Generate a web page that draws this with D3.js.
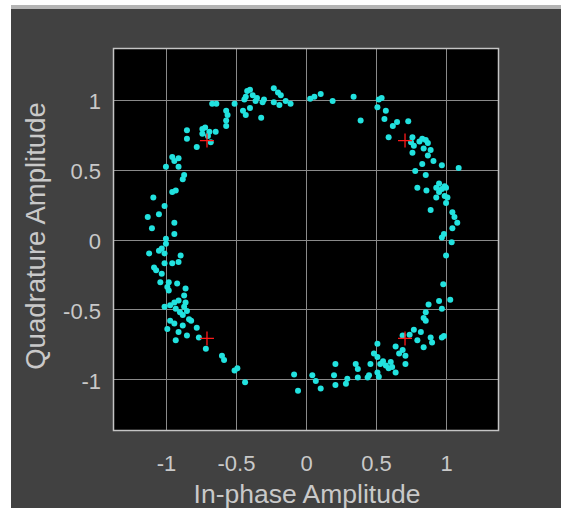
<!DOCTYPE html>
<html>
<head>
<meta charset="utf-8">
<script src="https://cdn.jsdelivr.net/npm/d3@7"></script>
<style>
  html, body { margin: 0; padding: 0; background: #fff; }
  svg { display: block; }
</style>
</head>
<body>
<script>
/*** data: received symbols (in-phase, quadrature) ***/
const inPhase = [
  -0.67, -0.64, -0.51, -0.42, -0.40, -0.43, -0.38, -0.36, -0.31, -0.30,
  -0.40, -0.45, -0.43, -0.32, -0.23, -0.20, -0.18, -0.23, -0.19, -0.145,
  -0.11, -0.57, -0.56, -0.57, -0.57, -0.85, -0.85, -0.74, -0.72, -0.69,
  -0.645, -0.74, -0.78, -0.68, -0.955, -0.91, -0.94, -1.00, -0.91, -0.87,
  -0.88, -0.93, -0.955, -1.09, -1.01, -1.05, -1.13, -1.10, -0.94, -0.94,
  -1.00, -0.44, -0.35, -0.70,
  0.03, 0.06, 0.105, 0.19, 0.34, 0.52, 0.54, 0.51, 0.57, 0.39,
  0.56, 0.62, 0.65, 0.73, 0.59, 0.76, 0.75, 0.77, 0.76, 0.83,
  0.855, 0.84, 0.89, 0.87, 0.83, 0.91, 0.97, 1.09, 0.78, 0.855,
  0.95, 0.97, 1.00, 0.95, 0.93, 0.99, 1.01, 1.00, 0.89, 1.045,
  1.06, 1.08, 1.045, 0.985, 0.97, 0.795, 0.86, 0.93, 0.99, 0.81,
  0.87,
  -1.00, -1.03, -1.05, -1.12, -1.01, -0.895, -0.91, -0.955, -1.01, -1.085,
  -1.07, -1.03, -1.04, -0.98, -0.92, -0.99, -0.98, -0.86, -0.87, -1.01,
  -0.97, -0.94, -0.91, -0.93, -0.87, -0.85, -0.88, -0.835, -0.97, -0.94,
  -0.99, -0.82, -0.88, -0.78, -0.91, -0.85, -0.93, -0.765, -0.715, -0.60,
  -0.585, -0.51, -0.49, -0.435, -0.085, -0.057, -0.90, -0.86,
  1.04, 1.00, 0.98, 1.03, 0.95, 0.97, 0.875, 0.855, 0.84, 0.855,
  0.77, 0.82, 0.795, 0.84, 0.89, 0.90, 0.97, 0.985, 0.69, 0.64,
  0.69, 0.665, 0.71, 0.71, 0.51, 0.485, 0.51, 0.46, 0.53, 0.57,
  0.605, 0.615, 0.64, 0.51, 0.52, 0.45, 0.44, 0.355, 0.37, 0.37,
  0.295, 0.285, 0.21, 0.20, 0.21, 0.105, 0.045, 0.07, 0.55, 0.59,
  0.74
];
const quadrature = [
  0.97, 0.97, 0.97, 1.06, 1.07, 1.02, 1.03, 0.99, 0.98, 1.00,
  0.94, 0.92, 0.89, 0.87, 1.08, 1.05, 1.03, 0.98, 0.96, 0.99,
  0.97, 0.92, 0.89, 0.85, 0.81, 0.78, 0.72, 0.79, 0.80, 0.77,
  0.77, 0.755, 0.66, 0.695, 0.59, 0.58, 0.56, 0.52, 0.52, 0.46,
  0.43, 0.35, 0.34, 0.30, 0.24, 0.18, 0.16, 0.08, 0.12, 0.04,
  0.005, 1.00, 1.01, 0.74,
  1.005, 1.02, 1.04, 0.99, 1.02, 1.00, 1.01, 0.945, 0.92, 0.85,
  0.86, 0.81, 0.84, 0.845, 0.73, 0.73, 0.695, 0.67, 0.62, 0.72,
  0.71, 0.65, 0.64, 0.60, 0.54, 0.56, 0.53, 0.51, 0.49, 0.46,
  0.40, 0.36, 0.37, 0.34, 0.30, 0.31, 0.30, 0.26, 0.21, 0.195,
  0.16, 0.12, 0.08, 0.04, 0.015, 0.37, 0.35, 0.37, 0.38, 0.70,
  0.69,
  -0.03, -0.065, -0.08, -0.10, -0.10, -0.115, -0.16, -0.17, -0.17, -0.20,
  -0.22, -0.245, -0.305, -0.305, -0.315, -0.34, -0.365, -0.35, -0.40, -0.48,
  -0.47, -0.45, -0.435, -0.495, -0.48, -0.51, -0.54, -0.57, -0.58, -0.60,
  -0.64, -0.58, -0.615, -0.63, -0.66, -0.685, -0.72, -0.70, -0.78, -0.83,
  -0.86, -0.935, -0.92, -1.02, -0.965, -1.08, -0.52, -0.45,
  -0.02, -0.115, -0.32, -0.43, -0.44, -0.495, -0.465, -0.52, -0.56, -0.58,
  -0.645, -0.66, -0.72, -0.77, -0.70, -0.735, -0.70, -0.69, -0.685, -0.765,
  -0.79, -0.815, -0.83, -0.89, -0.745, -0.815, -0.84, -0.89, -0.89, -0.90,
  -0.875, -0.91, -0.95, -0.95, -0.98, -0.97, -0.985, -0.89, -0.925, -0.985,
  -0.995, -1.03, -0.89, -0.97, -1.04, -1.065, -0.97, -1.01, -0.87, -0.92,
  -0.68
];
// reference QPSK constellation
const refI = [0.707, -0.707, -0.707, 0.707];
const refQ = [0.707, 0.707, -0.707, -0.707];
const tickValues = [-1, -0.5, 0, 0.5, 1];

/*** layout ***/
const width = 561, height = 508;
const frame = { left: 113, right: 499, top: 48, bottom: 431 };
const font = 'Liberation Sans, Arial, sans-serif';
const textColor = '#c9c9c9';

const svg = d3.select('body').append('svg')
  .attr('width', width)
  .attr('height', height);

// window edge + dark figure background
svg.append('rect').attr('width', width).attr('height', height).attr('fill', '#fff');
svg.append('rect').attr('x', 11).attr('y', 5).attr('width', width - 11).attr('height', 4)
  .attr('fill', '#b4b4b4');
svg.append('rect').attr('x', 11).attr('y', 9).attr('width', width - 11).attr('height', height - 9)
  .attr('fill', '#414141');

const x = d3.scaleLinear().domain([-1.378, 1.378]).range([frame.left, frame.right]);
const y = d3.scaleLinear().domain([-1.368, 1.368]).range([frame.bottom, frame.top]);

// plot background
svg.append('rect')
  .attr('x', frame.left).attr('y', frame.top)
  .attr('width', frame.right - frame.left)
  .attr('height', frame.bottom - frame.top)
  .attr('fill', '#000');

// grid
const grid = svg.append('g').attr('stroke', '#8a8a8a').attr('stroke-width', 1);
grid.selectAll('line.v').data(tickValues).join('line')
  .attr('class', 'v')
  .attr('x1', d => Math.round(x(d)) + 0.5).attr('x2', d => Math.round(x(d)) + 0.5)
  .attr('y1', frame.top).attr('y2', frame.bottom);
grid.selectAll('line.h').data(tickValues).join('line')
  .attr('class', 'h')
  .attr('y1', d => Math.round(y(d)) + 0.5).attr('y2', d => Math.round(y(d)) + 0.5)
  .attr('x1', frame.left).attr('x2', frame.right);

// received points
svg.append('g')
  .selectAll('circle')
  .data(d3.zip(inPhase, quadrature))
  .join('circle')
  .attr('cx', d => x(d[0]))
  .attr('cy', d => y(d[1]))
  .attr('r', 3)
  .attr('fill', '#22e2df');

// reference markers
svg.append('g')
  .selectAll('path')
  .data(d3.zip(refI, refQ))
  .join('path')
  .attr('transform', d => `translate(${x(d[0])},${y(d[1])})`)
  .attr('d', 'M-7,0H7M0,-7V7')
  .attr('stroke', '#ff1a1a')
  .attr('stroke-width', 1.3)
  .attr('fill', 'none');

// tick labels
const xAxis = svg.append('g')
  .attr('transform', `translate(0,${frame.bottom})`)
  .call(d3.axisBottom(x).tickValues(tickValues).tickSize(0).tickPadding(24).tickFormat(d => String(d)));
const yAxis = svg.append('g')
  .attr('transform', `translate(${frame.left},0)`)
  .call(d3.axisLeft(y).tickValues(tickValues).tickSize(0).tickPadding(12).tickFormat(d => String(d)));
yAxis.selectAll('text').attr('dy', '0.42em');

[xAxis, yAxis].forEach(a => {
  a.select('.domain').remove();
  a.selectAll('text')
    .attr('fill', textColor)
    .style('font-family', font)
    .style('font-size', '22px');
});

// axes box
svg.append('rect')
  .attr('x', frame.left + 0.5).attr('y', frame.top + 0.5)
  .attr('width', frame.right - frame.left - 1)
  .attr('height', frame.bottom - frame.top - 1)
  .attr('fill', 'none')
  .attr('stroke', '#c4c4c4')
  .attr('stroke-width', 1.5);

// axis titles
svg.append('text')
  .attr('x', 307)
  .attr('y', 503)
  .attr('text-anchor', 'middle')
  .attr('fill', textColor)
  .style('font-family', font)
  .style('font-size', '26.5px')
  .text('In-phase Amplitude');

svg.append('text')
  .attr('transform', `translate(45,236) rotate(-90)`)
  .attr('text-anchor', 'middle')
  .attr('fill', textColor)
  .style('font-family', font)
  .style('font-size', '27.5px')
  .text('Quadrature Amplitude');
</script>
</body>
</html>
